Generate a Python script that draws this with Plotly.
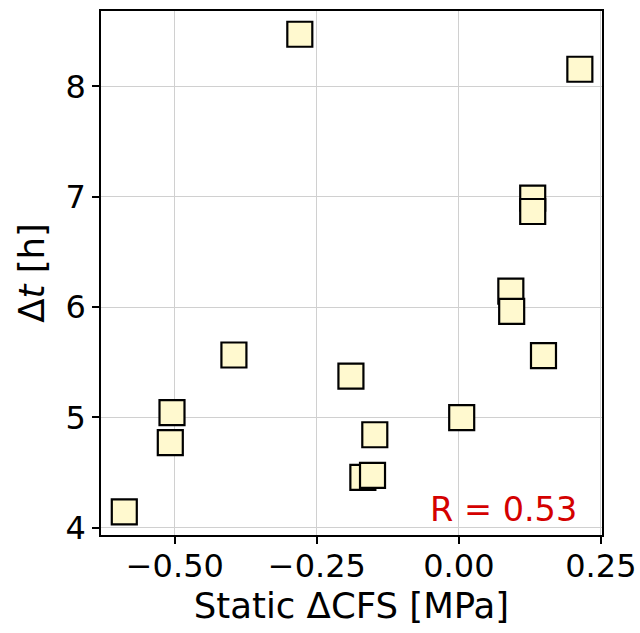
import plotly.graph_objects as go

dcfs = [-0.589, -0.505, -0.508, -0.396, -0.280, -0.190, -0.169, -0.152,
        -0.148, 0.005, 0.0915, 0.093, 0.130, 0.130, 0.149, 0.213]
dt_h = [4.143, 5.042, 4.770, 5.565, 8.473, 5.374, 4.456, 4.474,
        4.842, 4.998, 6.145, 5.961, 6.988, 6.866, 5.560, 8.156]
x_ticks = [-0.5, -0.25, 0.0, 0.25]
y_ticks = [4, 5, 6, 7, 8]
r_label = "R = 0.53"

FS = 32
FT = 35.5

fig = go.Figure()
fig.add_trace(go.Scatter(
    x=dcfs, y=dt_h, mode="markers",
    marker=dict(symbol="square", size=25, color="#FFF9CF",
                line=dict(color="black", width=2.2)),
    showlegend=False,
))

axis_common = dict(
    showline=True, linecolor="black", linewidth=1.5, mirror=True,
    ticks="outside", ticklen=7, tickwidth=1.5, tickcolor="black",
    showgrid=True, gridcolor="#d0d0d0", gridwidth=1.3,
    zeroline=False, automargin=False,
    tickfont=dict(family="DejaVu Sans", size=FS, color="black"),
)

fig.update_xaxes(
    range=[-0.630, 0.252], tickvals=x_ticks, tickformat=".2f",
    ticklabelstandoff=-5,
    title=dict(text="Static ΔCFS [MPa]", font=dict(family="DejaVu Sans", size=FT, color="black"), standoff=0),
    **axis_common,
)
fig.update_yaxes(
    range=[3.933, 8.684], tickvals=y_ticks,
    title=dict(text="Δ<i>t</i> [h]", font=dict(family="DejaVu Sans", size=FT, color="black"), standoff=10),
    **axis_common,
)

fig.add_annotation(
    x=0.954, y=0.048, xref="x domain", yref="y domain",
    xanchor="right", yanchor="middle", showarrow=False,
    text=r_label, font=dict(family="DejaVu Sans", size=33.5, color="#d40000"),
)

fig.update_layout(
    width=640, height=633,
    margin=dict(l=101, r=38, t=11, b=98),
    plot_bgcolor="white", paper_bgcolor="white",
)

fig.write_html("out.html")
